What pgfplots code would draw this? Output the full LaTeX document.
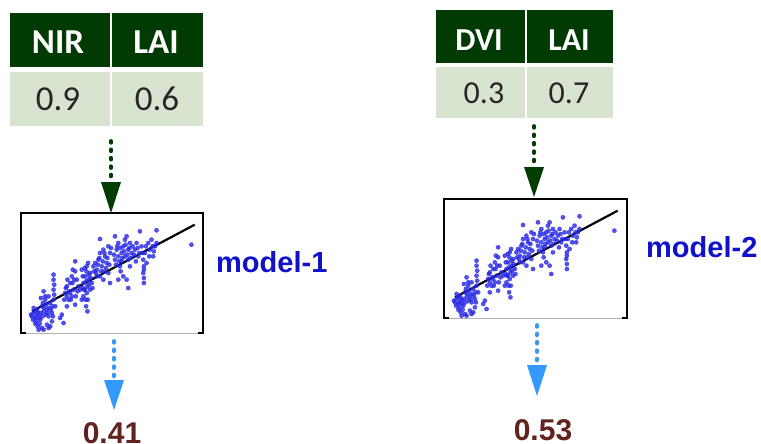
\documentclass[border=0pt]{standalone}
\usepackage{pgfplots}
\pgfplotsset{compat=1.18}
\usepackage{pgfplotstable}
\usepackage{fontspec}
\setmainfont{Liberation Sans}
\newfontfamily\carlito{Carlito}

\definecolor{hdrgreen}{RGB}{1,58,2}
\definecolor{cellgreen}{RGB}{216,228,208}
\definecolor{arrgreen}{RGB}{1,61,1}
\definecolor{txtblue}{RGB}{17,17,204}
\definecolor{ptblue}{RGB}{40,40,230}
\definecolor{brown}{RGB}{96,35,30}
\definecolor{skyblue}{RGB}{51,153,255}

% scatter cloud, read in pixel units of the small plot image
\pgfplotstableread{
x y
95 350
100 340
105 355
110 330
115 345
120 360
125 320
130 335
135 300
128 310
118 372
125 385
140 375
150 380
155 365
145 350
140 330
135 290
130 275
145 290
150 310
155 340
160 300
160 270
160 240
160 225
165 320
180 355
185 345
190 370
108 365
112 380
100 325
122 295
138 315
92 345
98 360
103 335
108 350
113 338
117 355
122 340
127 350
132 325
137 345
142 340
147 325
152 330
157 320
105 372
115 390
130 390
145 385
162 285
162 255
158 350
195 280
200 260
205 300
210 250
215 230
220 270
225 185
225 215
225 315
215 290
200 320
230 240
235 260
210 280
192 300
197 265
202 240
207 275
212 300
217 250
222 240
227 290
232 275
218 210
200 290
245 210
250 250
255 230
260 200
260 280
262 260
265 240
255 270
250 290
258 320
262 335
270 220
275 250
280 200
270 270
245 300
240 270
258 245
266 225
248 230
252 270
256 300
259 215
263 300
267 255
272 235
277 265
282 215
248 265
254 205
264 190
285 190
290 210
295 180
300 160
300 230
305 200
310 150
315 170
320 190
325 140
330 160
325 220
310 240
330 250
300 118
290 230
288 220
293 195
298 175
303 215
308 185
313 160
318 205
322 175
328 195
333 145
312 215
345 110
345 180
350 150
355 170
355 130
360 200
365 160
370 140
370 230
375 120
380 110
385 150
385 180
390 200
390 130
395 160
380 240
355 240
385 265
365 185
375 170
342 165
348 195
352 140
358 185
362 145
367 175
372 155
377 135
382 165
388 145
392 175
398 140
362 215
405 150
410 130
415 170
420 95
425 140
430 180
430 220
432 235
432 250
435 160
440 190
445 130
450 150
455 120
460 170
465 140
470 92
470 130
402 165
408 185
413 145
418 160
428 160
438 140
448 170
458 140
462 155
432 200
432 210
575 135
}\scatterdata

\pgfplotsset{minimodel/.style={
  width=182pt, height=120pt, scale only axis, hide axis,
  xmin=62, xmax=610, ymin=40, ymax=400, y dir=reverse, clip=false}}

\begin{document}
\begin{tikzpicture}
\path[use as bounding box] (0pt,0pt) rectangle (761pt,-444pt);

% ---- small scatter plots
\begin{axis}[minimodel, at={(21pt,-213pt)}, anchor=north west]
\addplot[only marks, mark=*, mark size=2.1pt, ptblue, opacity=0.8] table[x=x,y=y] {\scatterdata};
\addplot[black, line width=2.2pt, mark=none] coordinates {(95,335) (585,75)};
\end{axis}
\begin{axis}[minimodel, at={(444pt,-199pt)}, anchor=north west]
\addplot[only marks, mark=*, mark size=2.1pt, ptblue, opacity=0.8] table[x=x,y=y] {\scatterdata};
\addplot[black, line width=2.2pt, mark=none] coordinates {(95,335) (585,75)};
\end{axis}

\begin{scope}[x=1pt,y=-1pt]
% ---- left table
\fill[hdrgreen] (10,13) rectangle (110,67);
\fill[hdrgreen] (111.5,13) rectangle (203,67);
\fill[cellgreen] (10,72) rectangle (110,126);
\fill[cellgreen] (111.5,72) rectangle (203,126);
\node[text=white,inner sep=0] at (58,42.5) {\carlito\fontsize{35}{35}\selectfont\bfseries NIR};
\node[text=white,inner sep=0] at (156,42.5) {\carlito\fontsize{35}{35}\selectfont\bfseries LAI};
\node[text=black!85,inner sep=0] at (58,99) {\carlito\fontsize{35}{35}\selectfont 0.9};
\node[text=black!85,inner sep=0] at (157,99) {\carlito\fontsize{35}{35}\selectfont 0.6};

% ---- right table
\fill[hdrgreen] (436,10) rectangle (525,63);
\fill[hdrgreen] (526.5,10) rectangle (613,63);
\fill[cellgreen] (436,67) rectangle (525,118);
\fill[cellgreen] (526.5,67) rectangle (613,118);
\node[text=white,inner sep=0] at (479,40) {\carlito\fontsize{32}{32}\selectfont\bfseries DVI};
\node[text=white,inner sep=0] at (569,40) {\carlito\fontsize{32}{32}\selectfont\bfseries LAI};
\node[text=black!85,inner sep=0] at (484,93) {\carlito\fontsize{32}{32}\selectfont 0.3};
\node[text=black!85,inner sep=0] at (569,93) {\carlito\fontsize{32}{32}\selectfont 0.7};

% ---- green arrows
\draw[arrgreen,line width=3.8pt,line cap=round,dash pattern=on 1.8pt off 6.6pt] (111,141) -- (111,180);
\fill[arrgreen] (101,182) -- (121,182) -- (111,213) -- cycle;
\draw[arrgreen,line width=3.8pt,line cap=round,dash pattern=on 1.8pt off 6.6pt] (534,126) -- (534,165);
\fill[arrgreen] (524,167) -- (544,167) -- (534,197) -- cycle;

% frames
\draw[black,line width=2pt] (21,333) -- (21,213) -- (203,213) -- (203,333);
\draw[black!30,line width=0.8pt] (21,333) -- (203,333);
\draw[black,line width=2pt] (20,333) -- (26,333) (198,333) -- (204,333);
\draw[black,line width=2pt] (444,318) -- (444,199) -- (627,199) -- (627,318);
\draw[black!30,line width=0.8pt] (444,318) -- (627,318);
\draw[black,line width=2pt] (443,318) -- (449,318) (622,318) -- (628,318);

% ---- model labels
\node[anchor=west,inner sep=0,text=txtblue] at (216,262) {\fontsize{29}{29}\selectfont\bfseries model-1};
\node[anchor=west,inner sep=0,text=txtblue] at (646,247) {\fontsize{29}{29}\selectfont\bfseries model-2};

% ---- blue arrows
\draw[skyblue,line width=3.8pt,line cap=round,dash pattern=on 1.8pt off 6.6pt] (114,341) -- (114,378);
\fill[skyblue] (104,380) -- (124,380) -- (114,410) -- cycle;
\draw[skyblue,line width=3.8pt,line cap=round,dash pattern=on 1.8pt off 6.6pt] (537,325) -- (537,363);
\fill[skyblue] (527,365) -- (547,365) -- (537,396) -- cycle;

% ---- outputs
\node[anchor=base,inner sep=0,text=brown] at (112,443) {\fontsize{30}{30}\selectfont\bfseries 0.41};
\node[anchor=base,inner sep=0,text=brown] at (543,440) {\fontsize{30}{30}\selectfont\bfseries 0.53};
\end{scope}
\end{tikzpicture}
\end{document}
